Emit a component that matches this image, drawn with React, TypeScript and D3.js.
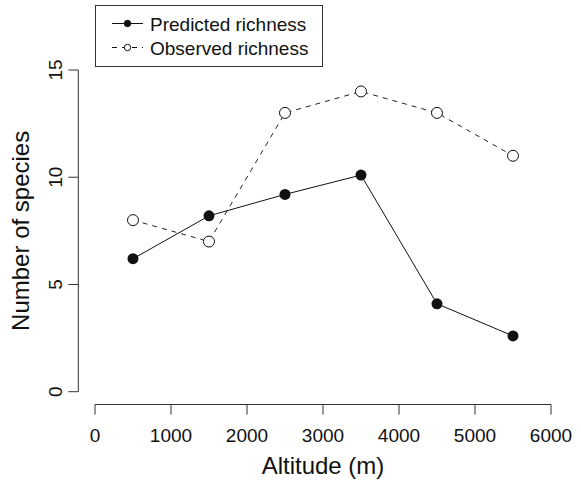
import React, { useRef, useEffect } from 'react';
import * as d3 from 'd3';

const altitudes = [500, 1500, 2500, 3500, 4500, 5500];
const predicted = [6.2, 8.2, 9.2, 10.1, 4.1, 2.6];
const observed = [8, 7, 13, 14, 13, 11];
const xTicks = [0, 1000, 2000, 3000, 4000, 5000, 6000];
const yTicks = [0, 5, 10, 15];
const legendLabels = ['Predicted richness', 'Observed richness'];

const W = 581;
const H = 482;
const FONT = '"Liberation Sans", Arial, Helvetica, sans-serif';

const App = () => {
  const svgRef = useRef<SVGSVGElement>(null);

  useEffect(() => {
    const svg = d3.select(svgRef.current);
    svg.selectAll('*').remove();

    const x = d3.scaleLinear().domain([0, 6000]).range([95, 551]);
    const y = d3.scaleLinear().domain([0, 15]).range([391.7, 70]);
    const axisY = 404.5; // x axis line position
    const axisX = 78.3; // y axis line position
    const tick = 10;

    svg.append('rect').attr('width', W).attr('height', H).attr('fill', 'white');

    // x axis
    const gx = svg.append('g').attr('font-family', FONT).attr('fill', '#111');
    gx.append('line')
      .attr('x1', x(0)).attr('x2', x(6000))
      .attr('y1', axisY).attr('y2', axisY)
      .attr('stroke', '#333');
    gx.selectAll('.xt')
      .data(xTicks)
      .enter().append('line')
      .attr('x1', d => x(d)).attr('x2', d => x(d))
      .attr('y1', axisY).attr('y2', axisY + tick)
      .attr('stroke', '#333');
    gx.selectAll('.xl')
      .data(xTicks)
      .enter().append('text')
      .attr('x', d => x(d))
      .attr('y', 442)
      .attr('text-anchor', 'middle')
      .attr('font-size', 19)
      .text(d => d);
    gx.append('text')
      .attr('x', (x(0) + x(6000)) / 2)
      .attr('y', 474)
      .attr('text-anchor', 'middle')
      .attr('font-size', 24)
      .text('Altitude (m)');

    // y axis
    const gy = svg.append('g').attr('font-family', FONT).attr('fill', '#111');
    gy.append('line')
      .attr('x1', axisX).attr('x2', axisX)
      .attr('y1', y(0)).attr('y2', y(15))
      .attr('stroke', '#333');
    gy.selectAll('.yt')
      .data(yTicks)
      .enter().append('line')
      .attr('x1', axisX - tick).attr('x2', axisX)
      .attr('y1', d => y(d)).attr('y2', d => y(d))
      .attr('stroke', '#333');
    gy.selectAll('.yl')
      .data(yTicks)
      .enter().append('text')
      .attr('transform', d => `translate(61.5,${y(d)}) rotate(-90)`)
      .attr('text-anchor', 'middle')
      .attr('font-size', 19)
      .text(d => d);
    gy.append('text')
      .attr('transform', `translate(28.5,${(y(0) + y(15)) / 2}) rotate(-90)`)
      .attr('text-anchor', 'middle')
      .attr('font-size', 24)
      .text('Number of species');

    // lines
    const line = d3.line<number>()
      .x((_, i) => x(altitudes[i]))
      .y(d => y(d));

    svg.append('path')
      .datum(observed)
      .attr('fill', 'none')
      .attr('stroke', '#222')
      .attr('stroke-dasharray', '5,5')
      .attr('d', line);

    svg.append('path')
      .datum(predicted)
      .attr('fill', 'none')
      .attr('stroke', '#111')
      .attr('d', line);

    svg.selectAll('.obs')
      .data(observed)
      .enter().append('circle')
      .attr('cx', (_, i) => x(altitudes[i]))
      .attr('cy', d => y(d))
      .attr('r', 5.5)
      .attr('fill', 'white')
      .attr('stroke', '#111');

    svg.selectAll('.pred')
      .data(predicted)
      .enter().append('circle')
      .attr('cx', (_, i) => x(altitudes[i]))
      .attr('cy', d => y(d))
      .attr('r', 5.5)
      .attr('fill', '#111');

    // legend
    const lg = svg.append('g').attr('font-family', FONT);
    lg.append('rect')
      .attr('x', 95.5).attr('y', 5.5)
      .attr('width', 227).attr('height', 61)
      .attr('fill', 'white')
      .attr('stroke', '#333');
    legendLabels.forEach((label, i) => {
      const ly = 23.5 + i * 24;
      lg.append('line')
        .attr('x1', 112).attr('x2', 143)
        .attr('y1', ly).attr('y2', ly)
        .attr('stroke', '#111')
        .attr('stroke-dasharray', i === 1 ? '5,5' : null);
      lg.append('circle')
        .attr('cx', 127.5).attr('cy', ly)
        .attr('r', 3.2)
        .attr('fill', i === 0 ? '#111' : 'white')
        .attr('stroke', '#111');
      lg.append('text')
        .attr('x', 150).attr('y', ly + 7)
        .attr('font-size', 19)
        .attr('fill', '#111')
        .text(label);
    });
  }, []);

  return (
    <svg
      ref={svgRef}
      width={W}
      height={H}
      style={{ position: 'absolute', left: 0, top: 0 }}
    />
  );
};

export default App;
